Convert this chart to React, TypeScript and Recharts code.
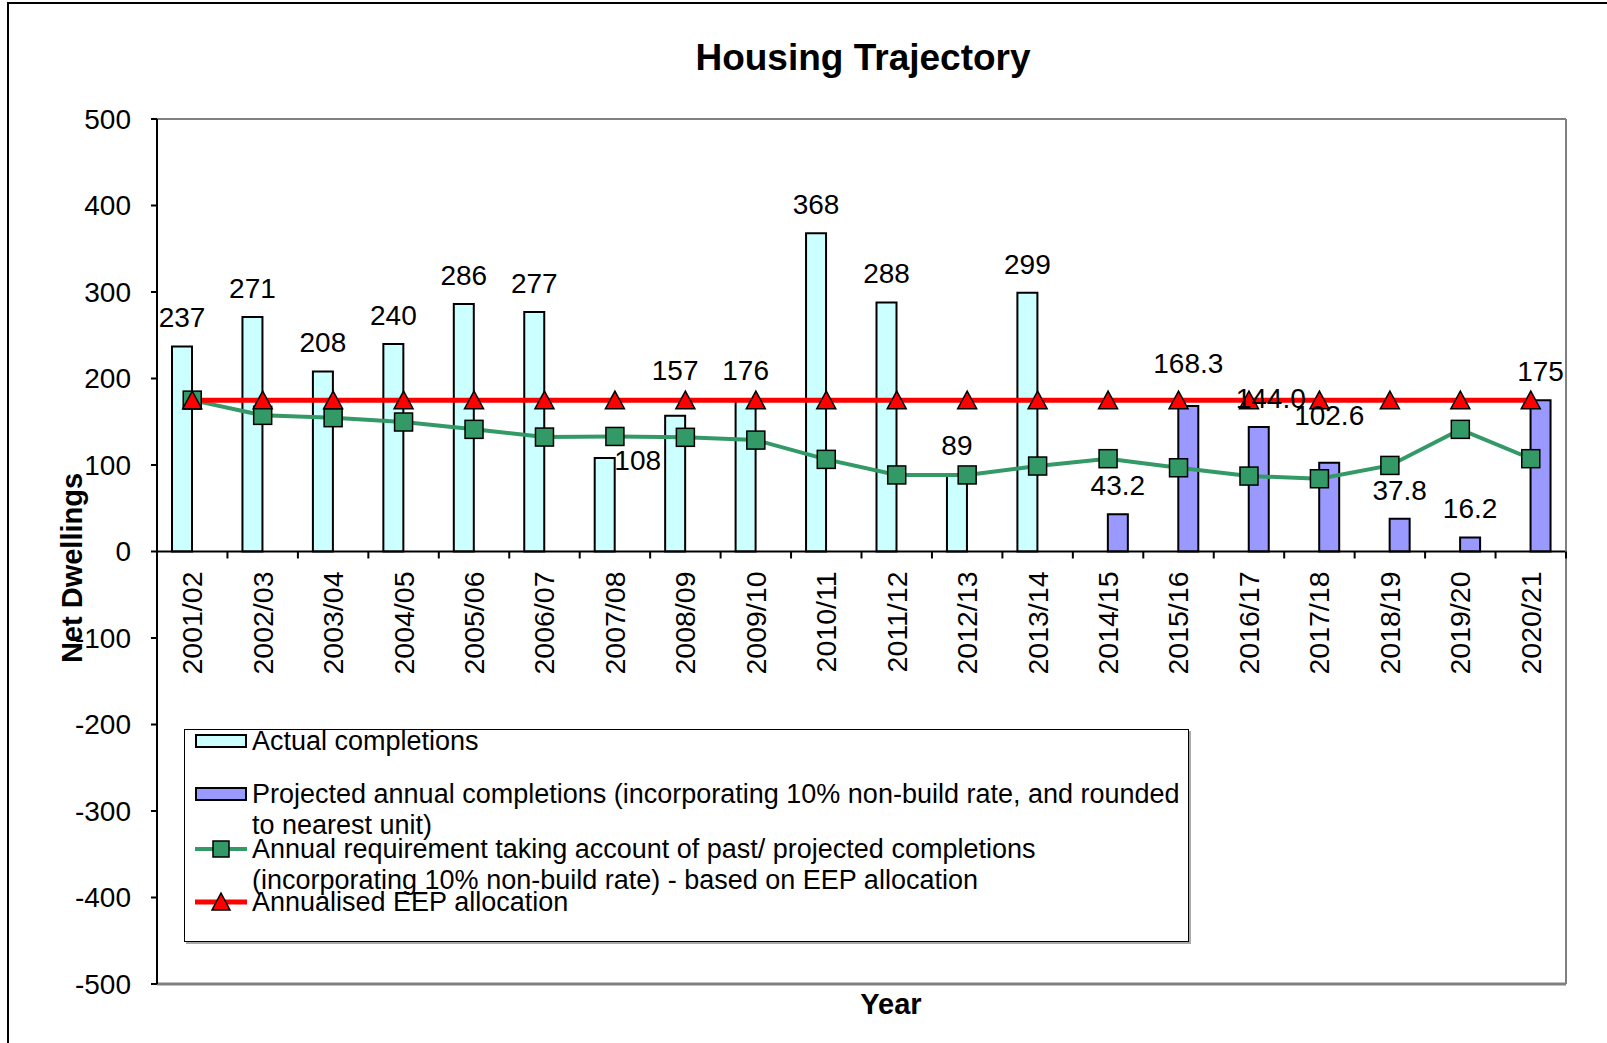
import React from 'react';
import {
  ComposedChart,
  Bar,
  Line,
  XAxis,
  YAxis,
  ReferenceLine,
  LabelList,
  Legend,
} from 'recharts';

// ---------- data ----------
const years = [
  '2001/02', '2002/03', '2003/04', '2004/05', '2005/06', '2006/07', '2007/08',
  '2008/09', '2009/10', '2010/11', '2011/12', '2012/13', '2013/14', '2014/15',
  '2015/16', '2016/17', '2017/18', '2018/19', '2019/20', '2020/21',
];
const actualCompletions: (number | null)[] = [
  237, 271, 208, 240, 286, 277, 108, 157, 176, 368, 288, 89, 299,
  null, null, null, null, null, null, null,
];
const projectedCompletions: (number | null)[] = [
  null, null, null, null, null, null, null, null, null, null, null, null, null,
  43.2, 168.3, 144.0, 102.6, 37.8, 16.2, 175,
];
const projectedLabelText: (string | null)[] = [
  null, null, null, null, null, null, null, null, null, null, null, null, null,
  '43.2', '168.3', '144.0', '102.6', '37.8', '16.2', '175',
];
const annualRequirement = [
  175, 157.4, 154.7, 149.7, 141.2, 132.3, 133, 132, 128.8, 106.5,
  88.5, 88.5, 98.8, 107.3, 96.8, 87.2, 84.1, 99.5, 141.2, 107.3,
];
const eepAllocation = [
  175, 175, 175, 175, 175, 175, 175, 175, 175, 175,
  175, 175, 175, 175, 175, 175, 175, 175, 175, 175,
];
const yTicks = [-500, -400, -300, -200, -100, 0, 100, 200, 300, 400, 500];

const data = years.map((year, i) => ({
  year,
  actual: actualCompletions[i],
  actualLabel: actualCompletions[i] == null ? null : String(actualCompletions[i]),
  projected: projectedCompletions[i],
  projectedLabel: projectedLabelText[i],
  req: annualRequirement[i],
  eep: eepAllocation[i],
}));

// ---------- layout / style ----------
const FONT = '"Liberation Sans", Arial, Helvetica, sans-serif';
const W = 1607;
const H = 1043;
const MARGIN = { top: 119, right: 40, bottom: 29, left: 97 };
const Y_AXIS_W = 60;
const X_AXIS_H = 30;
const PLOT_LEFT = MARGIN.left + Y_AXIS_W;
const PLOT_RIGHT = W - MARGIN.right - 1;
const PLOT_TOP = MARGIN.top;
const PLOT_BOTTOM = H - MARGIN.bottom - X_AXIS_H;
const Y_MIN = -500;
const Y_MAX = 500;
const ZERO_Y = PLOT_TOP + ((PLOT_BOTTOM - PLOT_TOP) * (Y_MAX - 0)) / (Y_MAX - Y_MIN);
const BAND = (PLOT_RIGHT - PLOT_LEFT) / years.length;

const C_ACTUAL = '#CCFFFF';
const C_PROJ = '#9999FF';
const C_REQ = '#339966';
const C_EEP = '#FF0000';

// label nudges keyed by label text (style only)
const labelNudge: Record<string, { dx: number; dy: number }> = {
  '108': { dx: 33, dy: 31 },
  '157': { dx: 0, dy: -16 },
  '168.3': { dx: 0, dy: -14 },
  '144.0': { dx: 12, dy: 0 },
  '102.6': { dx: 0, dy: -19 },
};

const CategoryTick = (props: any) => {
  const { x, payload, index } = props;
  const half = BAND / 2;
  const ty = ZERO_Y + 20;
  return (
    <g>
      <line x1={x - half} x2={x - half} y1={ZERO_Y} y2={ZERO_Y + 7} stroke="#000" strokeWidth={2} />
      {index === years.length - 1 && (
        <line x1={x + half} x2={x + half} y1={ZERO_Y} y2={ZERO_Y + 7} stroke="#000" strokeWidth={2} />
      )}
      <text
        x={x}
        y={ty}
        transform={`rotate(-90 ${x} ${ty})`}
        textAnchor="end"
        dy="0.35em"
        fontSize={28.5}
        fontFamily={FONT}
        fill="#000"
      >
        {payload.value}
      </text>
    </g>
  );
};

const BarLabel = (props: any) => {
  const { x, y, width, value } = props;
  if (value == null || value === '' || x == null) return null;
  const txt = String(value);
  const n = labelNudge[txt] || { dx: 0, dy: 0 };
  return (
    <text
      x={Number(x) + Number(width) / 2 + n.dx}
      y={Number(y) - 29 + n.dy}
      dy="0.35em"
      textAnchor="middle"
      fontSize={28}
      fontFamily={FONT}
      fill="#000"
    >
      {txt}
    </text>
  );
};

const SquareDot = (props: any) => {
  const { cx, cy } = props;
  if (cx == null || cy == null) return null;
  return <rect x={cx - 9} y={cy - 9} width={18} height={18} fill={C_REQ} stroke="#000" strokeWidth={1.5} />;
};

const TriangleDot = (props: any) => {
  const { cx, cy } = props;
  if (cx == null || cy == null) return null;
  return (
    <polygon
      points={`${cx},${cy - 9} ${cx - 9.5},${cy + 8.5} ${cx + 9.5},${cy + 8.5}`}
      fill={C_EEP}
      stroke="#000"
      strokeWidth={1.5}
      strokeLinejoin="miter"
    />
  );
};

const legendRows = [
  { kind: 'bar', color: C_ACTUAL, y: 11, lines: ['Actual completions'] },
  {
    kind: 'bar',
    color: C_PROJ,
    y: 64,
    lines: ['Projected annual completions (incorporating 10% non-build rate, and rounded', 'to nearest unit)'],
  },
  {
    kind: 'square',
    color: C_REQ,
    y: 119,
    lines: [
      'Annual requirement taking account of past/ projected completions',
      '(incorporating 10% non-build rate) - based on EEP allocation',
    ],
  },
  { kind: 'triangle', color: C_EEP, y: 172, lines: ['Annualised EEP allocation'] },
];

const LegendBox = () => (
  <div
    style={{
      position: 'relative',
      width: 1005,
      height: 213,
      boxSizing: 'border-box',
      border: '1.5px solid #000',
      boxShadow: '2px 2px 0 #aaa',
      background: '#fff',
      fontFamily: FONT,
      fontSize: 27,
      color: '#000',
    }}
  >
    {legendRows.map((r, i) => (
      <React.Fragment key={i}>
        <svg
          width={60}
          height={24}
          style={{ position: 'absolute', left: 8, top: r.y - 12, overflow: 'visible' }}
        >
          {r.kind === 'bar' && (
            <rect x={3} y={6} width={50} height={12} fill={r.color} stroke="#000" strokeWidth={2} />
          )}
          {r.kind !== 'bar' && (
            <line x1={2} x2={54} y1={12} y2={12} stroke={r.color} strokeWidth={r.kind === 'triangle' ? 5 : 4} />
          )}
          {r.kind === 'square' && (
            <rect x={20} y={4} width={16} height={16} fill={r.color} stroke="#000" strokeWidth={1.5} />
          )}
          {r.kind === 'triangle' && (
            <polygon points="28,3 19,20 37,20" fill={r.color} stroke="#000" strokeWidth={1.5} />
          )}
        </svg>
        {r.lines.map((t, j) => (
          <div
            key={j}
            style={{
              position: 'absolute',
              left: 67,
              top: r.y + j * 30.5 - 16,
              height: 32,
              lineHeight: '32px',
              whiteSpace: 'nowrap',
            }}
          >
            {t}
          </div>
        ))}
      </React.Fragment>
    ))}
  </div>
);

export default function App() {
  return (
    <div
      style={{
        position: 'absolute',
        left: 0,
        top: 0,
        width: W,
        height: H,
        background: '#fff',
        overflow: 'hidden',
      }}
    >
      <div
        style={{
          position: 'absolute',
          left: 7,
          top: 2,
          width: W,
          height: H,
          borderLeft: '2px solid #000',
          borderTop: '2px solid #000',
        }}
      />
      <div
        style={{
          position: 'absolute',
          left: 463,
          top: 39,
          width: 800,
          textAlign: 'center',
          fontFamily: FONT,
          fontWeight: 'bold',
          fontSize: 37,
          lineHeight: '37px',
          color: '#000',
        }}
      >
        Housing Trajectory
      </div>
      <div style={{ position: 'absolute', left: 0, top: 0 }}>
        <ComposedChart width={W} height={H} data={data} margin={MARGIN} barGap={0}>
          <XAxis
            dataKey="year"
            height={X_AXIS_H}
            interval={0}
            tickLine={false}
            axisLine={false}
            tick={CategoryTick}
            label={() => (
              <text x={891} y={1004} dy="0.35em" textAnchor="middle" fontFamily={FONT} fontWeight="bold" fontSize={29} fill="#000">
                Year
              </text>
            )}
          />
          <YAxis
            width={Y_AXIS_W}
            domain={[Y_MIN, Y_MAX]}
            ticks={yTicks}
            interval={0}
            allowDataOverflow
            tick={{ fill: '#000', fontSize: 28, fontFamily: FONT }}
            tickSize={6}
            tickMargin={20}
            tickLine={{ stroke: '#000', strokeWidth: 2 }}
            axisLine={{ stroke: '#000', strokeWidth: 2 }}
            label={() => (
              <text
                x={72}
                y={568}
                transform="rotate(-90 72 568)"
                dy="0.35em"
                textAnchor="middle"
                fontFamily={FONT}
                fontWeight="bold"
                fontSize={29}
                fill="#000"
              >
                Net Dwellings
              </text>
            )}
          />
          <YAxis
            yAxisId="r"
            orientation="right"
            width={1}
            domain={[Y_MIN, Y_MAX]}
            tick={false}
            tickLine={false}
            axisLine={{ stroke: '#808080', strokeWidth: 2 }}
          />
          <ReferenceLine y={500} stroke="#808080" strokeWidth={2} />
          <ReferenceLine y={-500} stroke="#808080" strokeWidth={3} />
          <Bar dataKey="actual" fill={C_ACTUAL} stroke="#000" strokeWidth={2} barSize={20} isAnimationActive={false}>
            <LabelList dataKey="actualLabel" content={BarLabel} />
          </Bar>
          <Bar dataKey="projected" fill={C_PROJ} stroke="#000" strokeWidth={2} barSize={20} isAnimationActive={false}>
            <LabelList dataKey="projectedLabel" content={BarLabel} />
          </Bar>
          <ReferenceLine y={0} stroke="#000" strokeWidth={2} />
          <Line
            dataKey="req"
            type="linear"
            stroke={C_REQ}
            strokeWidth={4}
            dot={SquareDot}
            activeDot={false}
            isAnimationActive={false}
          />
          <Line
            dataKey="eep"
            type="linear"
            stroke={C_EEP}
            strokeWidth={5}
            dot={TriangleDot}
            activeDot={false}
            isAnimationActive={false}
          />
          <Legend
            layout="horizontal"
            verticalAlign="middle"
            align="center"
            content={LegendBox}
            wrapperStyle={{ position: 'absolute', left: 184, top: 729, width: 1005, height: 213 }}
          />
        </ComposedChart>
      </div>
    </div>
  );
}
